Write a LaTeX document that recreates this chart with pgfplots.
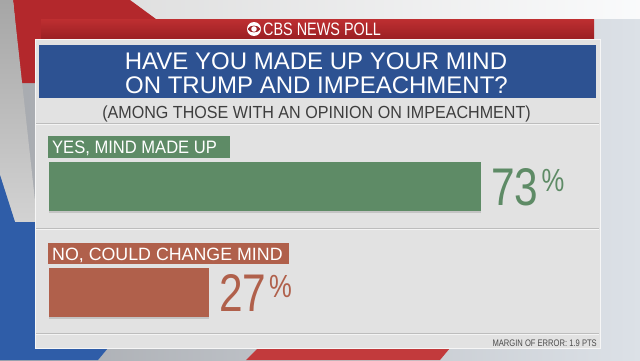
\documentclass[border=0pt]{standalone}
\usepackage{pgfplots}
\pgfplotsset{compat=1.18}
\usetikzlibrary{shadows}
\usepackage{fontspec}
\setmainfont{Liberation Sans}
\newfontfamily\cond[FakeStretch=0.8]{Liberation Sans}
\newfontfamily\semi[FakeStretch=0.92]{Liberation Sans}
\definecolor{bgL}{HTML}{A7AAAF}
\definecolor{bgR}{HTML}{DCE1E7}
\definecolor{cbsred}{HTML}{B3282C}
\definecolor{hdrT}{HTML}{BE2F31}
\definecolor{hdrB}{HTML}{9C2024}
\definecolor{titleblue}{HTML}{2D5292}
\definecolor{panelc}{HTML}{E2E2E2}
\definecolor{sepc}{HTML}{BDBDBD}
\definecolor{yesgreen}{HTML}{5E8B66}
\definecolor{nored}{HTML}{B0604B}
\definecolor{subc}{HTML}{3E3E3E}
\definecolor{bgblue}{HTML}{2F5DA8}
\definecolor{bgred}{HTML}{C23A3C}
\begin{document}
\begin{tikzpicture}[x=1pt,y=1pt]
\useasboundingbox (0,0) rectangle (640,360);
\begin{scope}
\clip (0,0) rectangle (640,360);
% background
\shade[left color=bgL, right color=bgR] (0,0) rectangle (640,360);
\shade[left color=gray!30, right color=white!85!bgR] (0,360) rectangle (640,342);
\fill[cbsred] (13,360) -- (130,360) -- (160,338) -- (160,300) -- (36,300) -- (36,277) -- (21,277) -- cycle;
\shade[top color=gray!70, bottom color=gray!35] (0,360) -- (13,360) -- (36,150) -- (36,138) -- (15,138) -- (0,185) -- cycle;
\fill[bgblue] (0,185) -- (15,138) -- (36,138) -- (36,12) -- (108,12) -- (98,0) -- (0,0) -- cycle;
\fill[bgred] (246,0) -- (258,12) -- (450,12) -- (440,0) -- cycle;
% panel
\fill[panelc, draw=white!70!panelc] (35,12) rectangle (600,321);
\shade[top color=hdrT, bottom color=hdrB] (41,322) rectangle (594,341);
\fill[titleblue] (39,262) rectangle (596,315);
\foreach \yy in {237,132,27}{
  \draw[sepc, line width=1pt] (36,\yy) -- (599,\yy);
  \draw[white!60!panelc, line width=1pt] (36,\yy-1) -- (599,\yy-1);
}
% header logo + text
\fill[white] (254,331) circle (7);
\fill[hdrB] (247.5,331) .. controls (250,335.5) and (258,335.5) .. (260.5,331) .. controls (258,326.5) and (250,326.5) .. (247.5,331) -- cycle;
\fill[white] (254,331) circle (2.8);
\node[white, anchor=base west, inner sep=0] at (263,325) {\cond\fontsize{18}{18}\selectfont CBS NEWS POLL};
% title
\node[white, anchor=base, inner sep=0] at (316,291) {\fontsize{24}{24}\selectfont HAVE YOU MADE UP YOUR MIND};
\node[white, anchor=base, inner sep=0] at (316.5,267) {\fontsize{24}{24}\selectfont ON TRUMP AND IMPEACHMENT?};
\node[subc, anchor=base, inner sep=0] at (316.5,242) {\semi\fontsize{17.5}{17.5}\selectfont (AMONG THOSE WITH AN OPINION ON IMPEACHMENT)};
% category labels
\fill[yesgreen] (48,202) rectangle (230,224);
\node[white, anchor=base west, inner sep=0] at (52,206.5) {\semi\fontsize{18}{18}\selectfont YES, MIND MADE UP};
\fill[nored] (48,96) rectangle (289,117);
\node[white, anchor=base west, inner sep=0] at (52,100) {\fontsize{17.8}{17.8}\selectfont NO, COULD CHANGE MIND};
\node[gray!60!black, anchor=base east, inner sep=0] at (597,14) {\cond\fontsize{9.5}{9.5}\selectfont MARGIN OF ERROR: 1.9 PTS};
\end{scope}
\begin{axis}[at={(0,0)}, anchor=south west, width=640pt, height=360pt,
  scale only axis, hide axis, clip=false,
  xmin=-8.277, xmax=99.83, ymin=0, ymax=360,
  xbar, bar shift=0pt, bar width=49pt,
  point meta=x,
  /pgf/number format/assume math mode=true,
  nodes near coords={\cond\fontsize{53}{53}\selectfont\pgfmathprintnumber[assume math mode=true]{\pgfplotspointmeta}\kern3pt\raisebox{14pt}{\fontsize{32}{32}\selectfont\%}},
  every node near coord/.append style={anchor=base west, inner sep=0pt, xshift=10pt, yshift=-19pt},
]
\addplot[fill=yesgreen, draw=none, bar shift=0pt, drop shadow={shadow xshift=0pt, shadow yshift=-2pt, opacity=0.3},
  every node near coord/.append style={text=yesgreen}] coordinates {(73,173.5)};
\addplot[fill=nored, draw=none, bar shift=0pt, drop shadow={shadow xshift=0pt, shadow yshift=-2pt, opacity=0.3},
  every node near coord/.append style={text=nored}] coordinates {(27,67.5)};
\end{axis}
\end{tikzpicture}
\end{document}
